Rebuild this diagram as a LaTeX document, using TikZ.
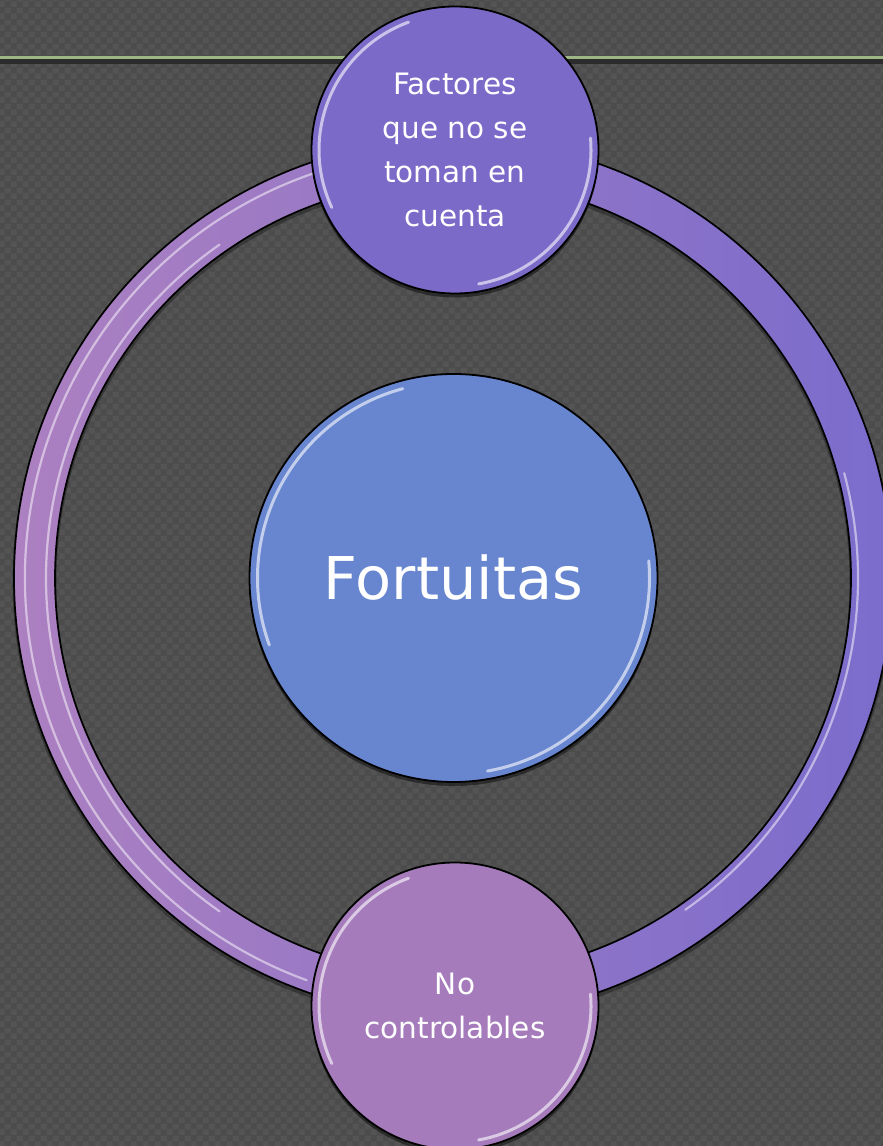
\documentclass[tikz,border=0pt]{standalone}
\usepackage{fontspec}
\setmainfont{DejaVu Sans}
\usetikzlibrary{shadows,patterns.meta}

\definecolor{bgA}{HTML}{4C4C4C}
\definecolor{bgB}{HTML}{545454}
\definecolor{rule}{HTML}{9DB686}
\definecolor{ruleShadow}{HTML}{2C2C2C}
\definecolor{ringL}{HTML}{AC80C1}
\definecolor{ringR}{HTML}{7B6CCC}
\definecolor{topFill}{HTML}{7B6AC8}
\definecolor{midFill}{HTML}{6786CF}
\definecolor{botFill}{HTML}{A57BBB}

% fine checkered texture of the slide background
\tikzdeclarepattern{
  name=bgchecks,
  type=colored,
  bottom left={(0pt,0pt)},
  top right={(12pt,12pt)},
  tile size={(12pt,12pt)},
  code={
    \fill[bgB] (0pt,0pt) rectangle (6pt,6pt);
    \fill[bgB] (6pt,6pt) rectangle (12pt,12pt);
  }
}

\tikzset{
  bubble/.style={circle, draw=black, line width=1.8pt, inner sep=0pt,
    text=white, align=center,
    drop shadow={shadow xshift=0pt, shadow yshift=-4pt, opacity=0.45, fill=black}},
  gloss/.style={white, line width=3pt, opacity=0.6, line cap=round},
  ringgloss/.style={white, line width=2.2pt, opacity=0.5, line cap=round},
  smalltext/.style={font=\fontsize{29.5}{44}\selectfont},
  bigtext/.style={font=\fontsize{59}{70}\selectfont}
}

\begin{document}
\begin{tikzpicture}[x=1pt,y=1pt]
  \useasboundingbox (0,0) rectangle (883,1146);

  % background
  \fill[bgA] (0,0) rectangle (883,1146);
  \fill[pattern=bgchecks] (0,0) rectangle (883,1146);

  % title rule with its dark shadow
  \fill[ruleShadow] (0,1082) rectangle (883,1086.5);
  \fill[rule] (0,1086.5) rectangle (883,1089.5);

  % ring centre
  \coordinate (rc) at (453,568);

  % soft shadow under the ring
  \draw[black, opacity=0.3, line width=44pt] (453,565) circle (418.5pt);

  % the ring
  \path[left color=ringL, right color=ringR, even odd rule]
    (rc) circle (439pt) (rc) circle (398pt);
  \draw[black, line width=1.7pt] (rc) circle (439pt);
  \draw[black, line width=1.7pt] (rc) circle (398pt);
  \draw[ringgloss] (rc) ++(105:428pt) arc[start angle=105, end angle=250, radius=428pt];
  \draw[ringgloss] (rc) ++(125:407pt) arc[start angle=125, end angle=235, radius=407pt];
  \draw[ringgloss] (rc) ++(-55:405pt) arc[start angle=-55, end angle=15, radius=405pt];

  % circles
  \node[bubble, fill=midFill, minimum size=408pt, bigtext] (mid) at (453.5,568) {Fortuitas};
  \node[bubble, fill=topFill, minimum size=287pt, smalltext] (top) at (455,996)
    {Factores\\que no se\\toman en\\cuenta};
  \node[bubble, fill=botFill, minimum size=287pt, smalltext] (bot) at (455,140)
    {No\\controlables};

  % glossy crescents inside the circle rims
  \draw[gloss] (mid.center) ++(105:196pt) arc[start angle=105, end angle=200, radius=196pt];
  \draw[gloss] (mid.center) ++(-80:196pt) arc[start angle=-80, end angle=5, radius=196pt];
  \draw[gloss] (top.center) ++(110:136pt) arc[start angle=110, end angle=205, radius=136pt];
  \draw[gloss] (top.center) ++(-80:136pt) arc[start angle=-80, end angle=5, radius=136pt];
  \draw[gloss] (bot.center) ++(110:136pt) arc[start angle=110, end angle=205, radius=136pt];
  \draw[gloss] (bot.center) ++(-80:136pt) arc[start angle=-80, end angle=5, radius=136pt];
\end{tikzpicture}
\end{document}
